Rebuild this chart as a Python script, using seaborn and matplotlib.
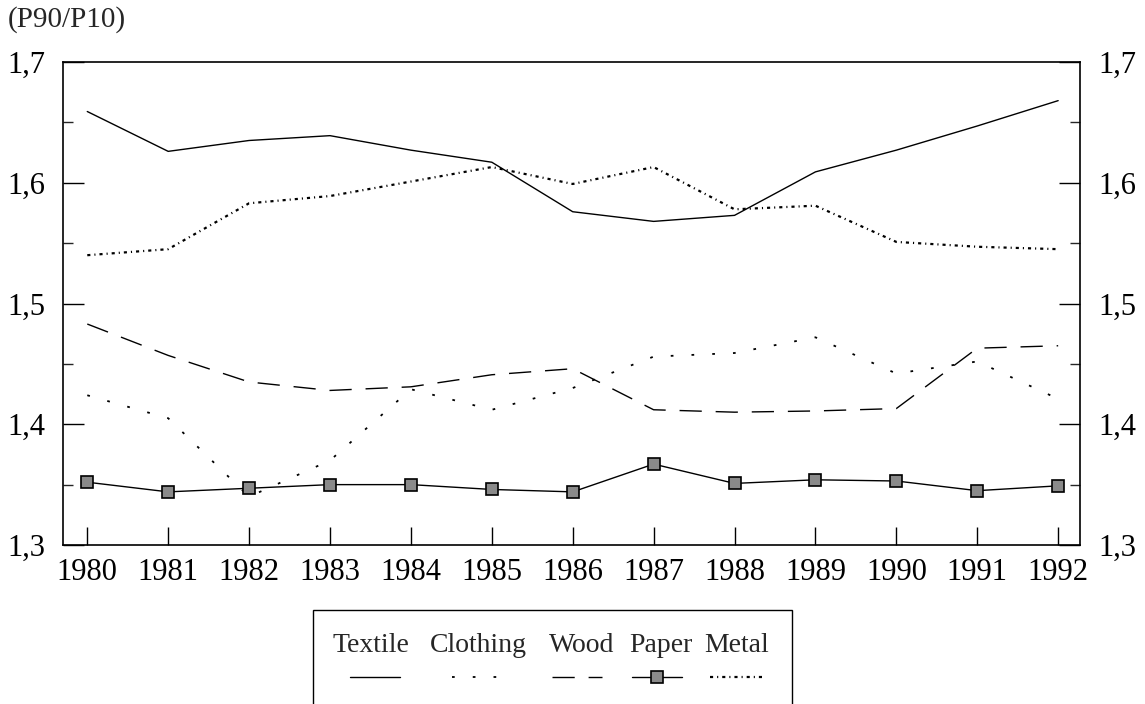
import matplotlib
matplotlib.use("Agg")
import matplotlib.pyplot as plt
import matplotlib.ticker as mticker
from matplotlib.lines import Line2D
from matplotlib.patches import Rectangle
import seaborn as sns
import pandas as pd

years = [1980, 1981, 1982, 1983, 1984, 1985, 1986, 1987, 1988, 1989, 1990, 1991, 1992]
textile = [1.659, 1.626, 1.635, 1.639, 1.627, 1.617, 1.576, 1.568, 1.573, 1.609, 1.627, 1.647, 1.668]
clothing = [1.424, 1.405, 1.340, 1.370, 1.429, 1.412, 1.430, 1.456, 1.459, 1.472, 1.442, 1.452, 1.421]
wood = [1.483, 1.457, 1.435, 1.428, 1.431, 1.441, 1.446, 1.412, 1.410, 1.411, 1.413, 1.463, 1.465]
paper = [1.352, 1.344, 1.347, 1.350, 1.350, 1.346, 1.344, 1.367, 1.351, 1.354, 1.353, 1.345, 1.349]
metal = [1.540, 1.545, 1.583, 1.589, 1.601, 1.613, 1.599, 1.613, 1.578, 1.581, 1.551, 1.547, 1.545]
series_names = ["Textile", "Clothing", "Wood", "Paper", "Metal"]
y_label = "(P90/P10)"

sns.set_theme(style="white")
plt.rcParams["font.family"] = ["Liberation Serif", "DejaVu Serif"]

styles = {
    "Textile": dict(color="black", linewidth=1.0, linestyle="-"),
    "Clothing": dict(color="black", linewidth=1.3, linestyle=(0, (1.5, 10.0))),
    "Wood": dict(color="black", linewidth=1.0, linestyle=(0, (16, 10))),
    "Paper": dict(color="black", linewidth=1.0, linestyle="-", marker="s", markersize=8,
                  markerfacecolor="#8a8a8a", markeredgecolor="black", markeredgewidth=1.2),
    "Metal": dict(color="black", linewidth=1.6, linestyle=(0, (1.4, 1.8, 0.5, 1.8))),
}

df = pd.DataFrame({"year": years, "Textile": textile, "Clothing": clothing,
                   "Wood": wood, "Paper": paper, "Metal": metal})

fig = plt.figure(figsize=(11.45, 7.04), dpi=100)
ax = fig.add_axes([63 / 1145, 1 - 545 / 704, (1080 - 63) / 1145, (545 - 62) / 704])

for name in series_names:
    sns.lineplot(data=df, x="year", y=name, ax=ax, legend=False, **styles[name])

ax.set_xlim(1979.70, 1992.27)
ax.set_ylim(1.3, 1.7)
ax.set_xticks(years)
ax.set_xticklabels([str(y) for y in years])
ax.yaxis.set_major_locator(mticker.MultipleLocator(0.1))
ax.yaxis.set_minor_locator(mticker.MultipleLocator(0.05))
ax.yaxis.set_major_formatter(mticker.FuncFormatter(lambda v, p: f"{v:.1f}".replace(".", ",")))
ax.set_xlabel("")
ax.set_ylabel("")
ax.tick_params(axis="y", which="major", direction="in", length=15, width=1,
               left=True, right=True, labelleft=True, labelright=True,
               labelsize=22, pad=13, colors="black")
ax.tick_params(axis="y", which="minor", direction="in", length=7, width=1,
               left=True, right=True)
ax.tick_params(axis="x", which="major", direction="in", length=13, width=1,
               bottom=True, top=False, labelsize=22, pad=9, colors="black")
for s in ax.spines.values():
    s.set_color("black")
    s.set_linewidth(1.2)
ax.grid(False)

fig.text(8 / 1145, 1 - 20 / 704, y_label, fontsize=21, ha="left", va="center")

# legend box (labels above their line samples), clipped at the bottom edge
fig.patches.append(Rectangle((313 / 1145, -0.05), (792 - 313) / 1145, 0.05 + (704 - 610) / 704,
                             transform=fig.transFigure, fill=False, edgecolor="black",
                             linewidth=1.0))
label_x = [371, 478, 582, 661, 737]
sample_x = [(350, 400), (452, 502), (552, 602), (632, 682), (710, 763)]
for name, lx, (sx0, sx1) in zip(series_names, label_x, sample_x):
    fig.text(lx / 1145, 1 - 645 / 704, name, fontsize=20, ha="center", va="center")
    st = dict(styles[name])
    ln = Line2D([sx0 / 1145, sx1 / 1145], [1 - 677 / 704, 1 - 677 / 704],
                transform=fig.transFigure, **{k: v for k, v in st.items() if k != "marker"})
    fig.lines.append(ln)
    if name == "Paper":
        mk = Line2D([(sx0 + sx1) / 2 / 1145], [1 - 677 / 704], transform=fig.transFigure,
                    linestyle="none", marker="s", markersize=8, markerfacecolor="#8a8a8a",
                    markeredgecolor="black", markeredgewidth=1.2)
        fig.lines.append(mk)

fig.savefig("out.png", dpi=100)
